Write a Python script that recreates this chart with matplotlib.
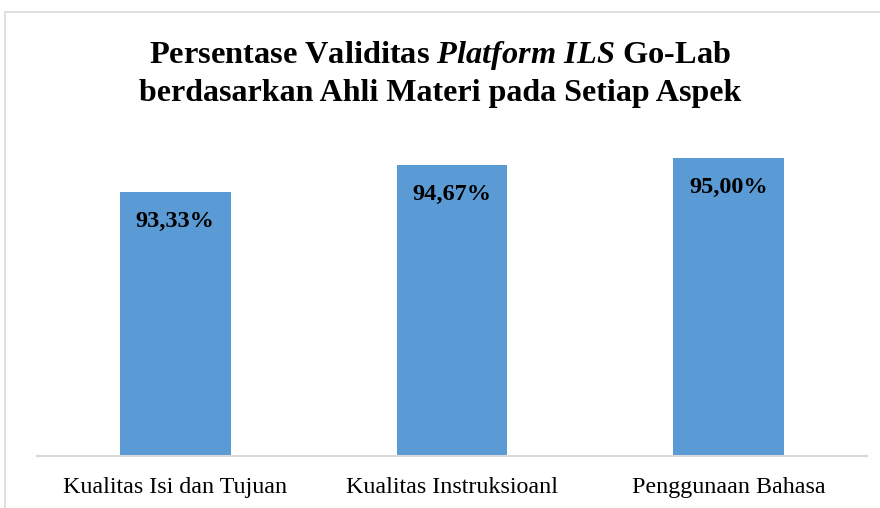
import matplotlib.pyplot as plt
from matplotlib.patches import Rectangle

categories = ["Kualitas Isi dan Tujuan", "Kualitas Instruksioanl", "Penggunaan Bahasa"]
values = [93.33, 94.67, 95.00]
labels = ["93,33%", "94,67%", "95,00%"]

plt.rcParams["font.family"] = ["Liberation Serif", "DejaVu Serif"]
plt.rcParams["mathtext.fontset"] = "custom"
plt.rcParams["mathtext.it"] = "Liberation Serif:italic:bold"
plt.rcParams["mathtext.rm"] = "Liberation Serif:bold"

fig = plt.figure(figsize=(8.8, 5.08), dpi=100)
ax = fig.add_axes([0.042, 0.1024, 0.943, 0.622])

# chart frame (only left/top visible in the crop)
fig.patches.append(Rectangle((5 / 880, -0.1), 1.1, 1.1 - 12 / 508, transform=fig.transFigure,
                             fill=False, edgecolor="#D9D9D9", linewidth=1.2))

x = range(len(categories))
ax.bar(x, values, width=0.4, color="#5B9BD5", zorder=2)
for i, (v, lab) in enumerate(zip(values, labels)):
    ax.annotate(lab, (i, v), xytext=(0, -30), textcoords="offset pixels",
                ha="center", va="center", fontsize=17.5, fontweight="bold")

ax.set_xlim(-0.5, 2.5)
ax.set_ylim(80.36, 95.88)
ax.set_xticks(list(x))
ax.set_xticklabels(categories, fontsize=17.3)
ax.tick_params(axis="x", length=0, pad=15)
ax.set_yticks([])
for s in ["top", "right", "left"]:
    ax.spines[s].set_visible(False)
ax.spines["bottom"].set_color("#D9D9D9")
ax.spines["bottom"].set_linewidth(1.5)

fig.text(0.5, 1 - 55 / 508, r"Persentase Validitas $\mathit{Platform\ ILS}$ Go-Lab",
         ha="center", va="center", fontsize=23.3, fontweight="bold")
fig.text(0.5, 1 - 93 / 508, "berdasarkan Ahli Materi pada Setiap Aspek",
         ha="center", va="center", fontsize=23, fontweight="bold")

fig.savefig("out.png", dpi=100)
